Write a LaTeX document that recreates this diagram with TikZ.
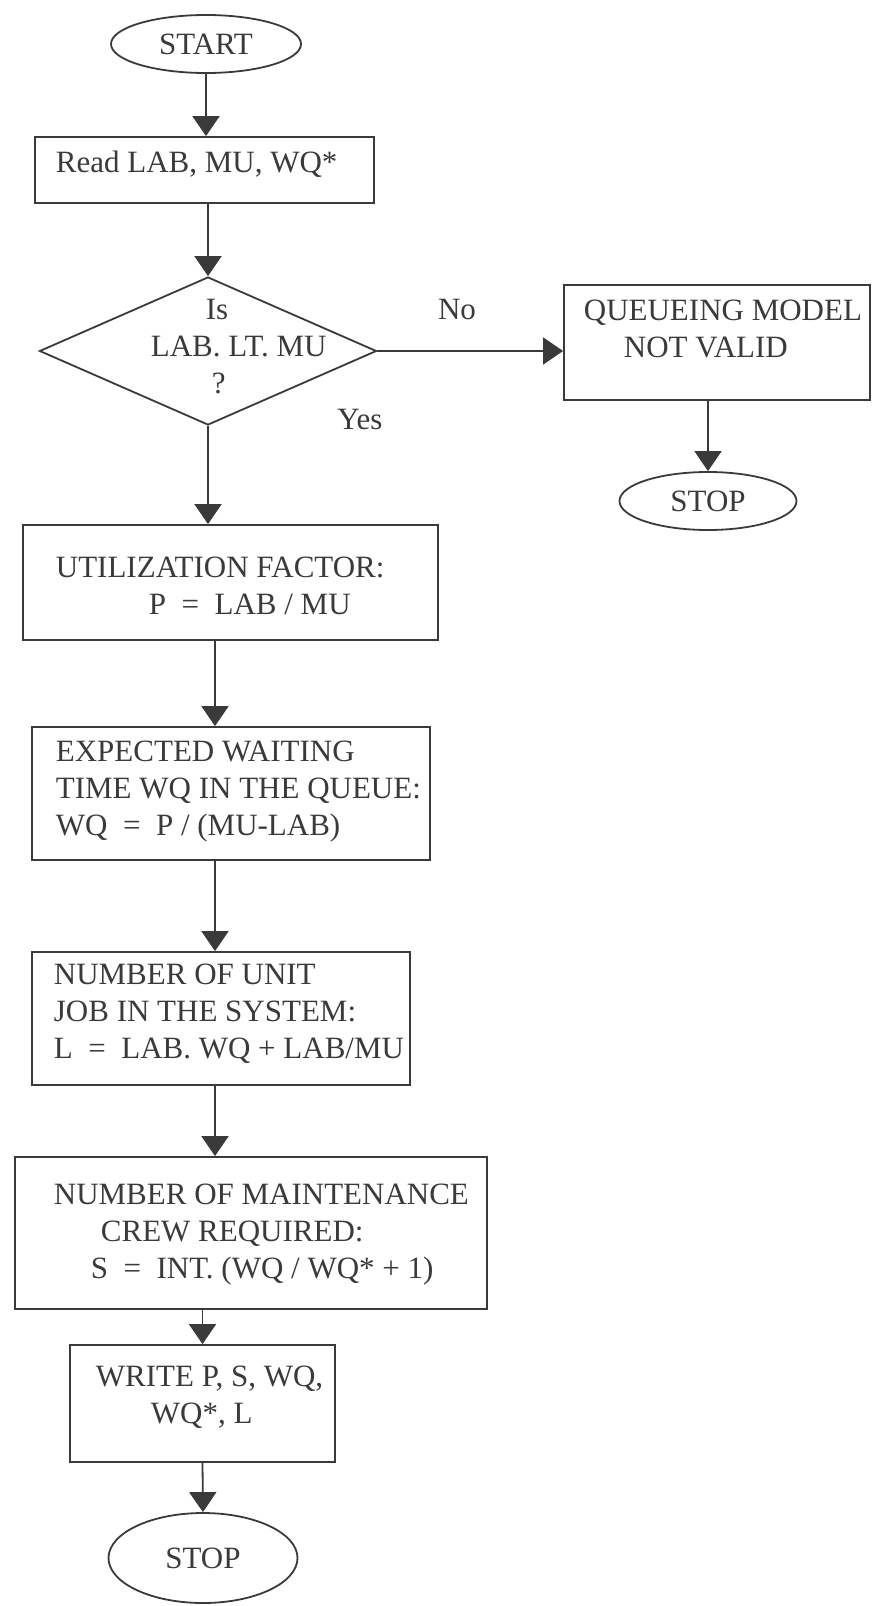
\documentclass[tikz,border=0pt]{standalone}
\usepackage{fontspec}
\setmainfont{Liberation Serif}
\usetikzlibrary{shapes.geometric,arrows.meta}
\definecolor{ink}{HTML}{3A3A3A}

\begin{document}
\begin{tikzpicture}[x=1pt, y=-1pt, >={Triangle[length=20pt,width=27pt]}, color=ink, line width=1.8pt]
    \useasboundingbox (0,0) rectangle (872,1606);

    \tikzstyle{every node} = [font=\fontsize{31}{37}\selectfont]
    \tikzstyle{term} = [ellipse, draw, inner sep=0pt]
    \tikzstyle{proc} = [rectangle, draw, inner sep=0pt]
    \tikzstyle{txt} = [anchor=north west, inner sep=0pt, align=left]

    % left column
    \node[term, minimum width=190pt, minimum height=58pt] (start) at (206,44) {START};

    \node[proc, minimum width=339pt, minimum height=66pt] (read) at (204.5,170) {};
    \node[txt] (read-t) at (55,150) {Read LAB, MU, WQ*};

    \node[diamond, draw, inner sep=0pt, minimum width=337pt, minimum height=148pt] (test) at (208,351) {};
    \node[txt] (test-t) at (150,298) {\hspace*{55pt}Is\\LAB. LT. MU\\\hspace*{61pt}?};

    \node[proc, minimum width=415pt, minimum height=115pt] (util) at (230.5,582.5) {};
    \node[txt] (util-t) at (55,556) {UTILIZATION FACTOR:\\\hspace*{93pt}P~~=~~LAB / MU};

    \node[proc, minimum width=398pt, minimum height=133pt] (wait) at (231,793.5) {};
    \node[txt] (wait-t) at (55,740) {EXPECTED WAITING\\TIME WQ IN THE QUEUE:\\WQ~~=~~P / (MU-LAB)};

    \node[proc, minimum width=378pt, minimum height=133pt] (units) at (221,1018.5) {};
    \node[txt] (units-t) at (53,963) {NUMBER OF UNIT\\JOB IN THE SYSTEM:\\L~~=~~LAB. WQ + LAB/MU};

    \node[proc, minimum width=472pt, minimum height=152pt] (crew) at (251,1233) {};
    \node[txt] (crew-t) at (53,1183) {NUMBER OF MAINTENANCE\\\hspace*{47pt}CREW REQUIRED:\\\hspace*{37pt}S~~=~~INT. (WQ / WQ* + 1)};

    \node[proc, minimum width=265pt, minimum height=117pt] (out) at (202.5,1403.5) {};
    \node[txt] (out-t) at (95,1365) {WRITE P, S, WQ,\\\hspace*{55pt}WQ*, L};

    \node[term, minimum width=189pt, minimum height=90pt] (stop) at (203,1558) {STOP};

    % right branch
    \node[proc, minimum width=306pt, minimum height=115pt] (invalid) at (717,342.5) {};
    \node[txt] (invalid-t) at (583,299) {QUEUEING MODEL\\\hspace*{40pt}NOT VALID};

    \node[term, minimum width=177pt, minimum height=58pt] (halt) at (708,501) {STOP};

    \node (no) at (457,309) {No};
    \node (yes) at (360,419) {Yes};

    \coordinate (spine) at (215,0);

    \draw[->] (start.south) -- (start.south |- read.north);
    \draw[->] (read.south -| test.north) -- (test.north);
    \draw[->] (test.east) -- (test.east -| invalid.west);
    \draw[->] (halt.north |- invalid.south) -- (halt.north);
    \draw[->] (test.south) -- (test.south |- util.north);
    \draw[->] (util.south -| spine) -- (wait.north -| spine);
    \draw[->] (wait.south -| spine) -- (units.north -| spine);
    \draw[->] (units.south -| spine) -- (crew.north -| spine);
    \draw[->] (crew.south -| out.north) -- (out.north);
    \draw[->] (out.south) -- (stop.north);
\end{tikzpicture}
\end{document}
